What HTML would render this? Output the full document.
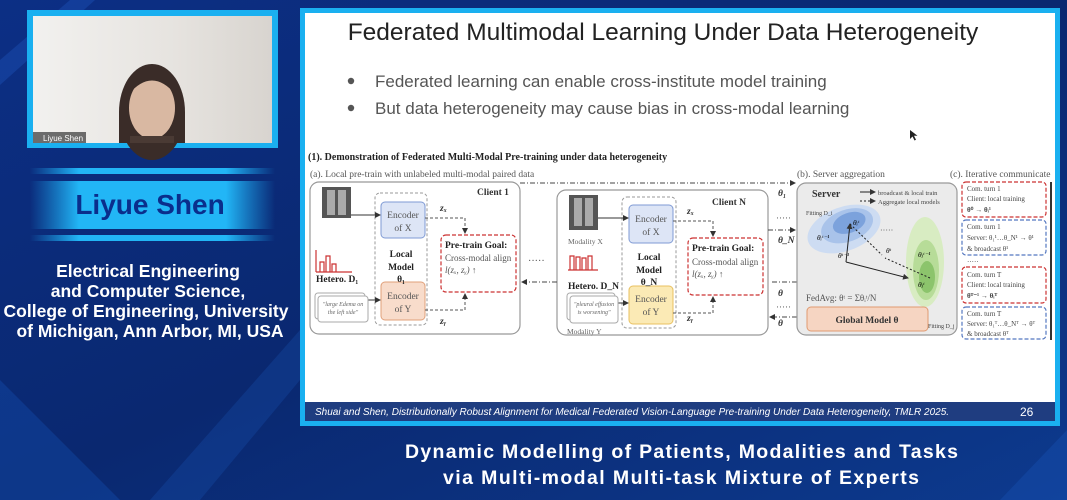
<!DOCTYPE html>
<html><head><meta charset="utf-8"><style>
html,body{margin:0;padding:0;width:1067px;height:500px;overflow:hidden;background:#0b2a72}
svg{display:block}
text{font-family:"Liberation Serif",serif}
.s{font-family:"Liberation Sans",sans-serif}
</style></head><body>
<svg width="1067" height="500" viewBox="0 0 1067 500" xmlns="http://www.w3.org/2000/svg">
<defs>
<linearGradient id="bg" x1="0" y1="0" x2="1" y2="1">
<stop offset="0" stop-color="#0c2f85"/><stop offset="0.5" stop-color="#0a2870"/><stop offset="1" stop-color="#0d3a8e"/>
</linearGradient>
<linearGradient id="band" x1="0" y1="0" x2="1" y2="0">
<stop offset="0" stop-color="#1aa8f0" stop-opacity="0"/><stop offset="0.2" stop-color="#22b6f6"/><stop offset="0.8" stop-color="#22b6f6"/><stop offset="1" stop-color="#1aa8f0" stop-opacity="0"/>
</linearGradient>
<linearGradient id="vid" x1="0" y1="0" x2="1" y2="0">
<stop offset="0" stop-color="#f2f1ef"/><stop offset="0.6" stop-color="#e6e3df"/><stop offset="1" stop-color="#d8d4cf"/>
</linearGradient>
<marker id="ah" markerWidth="6" markerHeight="6" refX="5" refY="3" orient="auto"><path d="M0,0L6,3L0,6z" fill="#333"/></marker>
</defs>
<rect width="1067" height="500" fill="url(#bg)"/>
<polygon points="0,60 70,0 95,0 0,85" fill="#1a4bb0" opacity="0.5"/>
<polygon points="0,500 0,380 120,500" fill="#1552b8" opacity="0.35"/>
<polygon points="150,500 300,330 300,380 200,500" fill="#1a5ac0" opacity="0.25"/>
<polygon points="1000,500 1067,430 1067,500" fill="#1a5ac0" opacity="0.3"/>

<!-- video -->
<rect x="27" y="10" width="251" height="138" fill="#1ab0f0"/>
<rect x="33" y="16" width="239" height="127" fill="url(#vid)"/>
<ellipse cx="152" cy="112" rx="33" ry="48" fill="#3a2c28"/>
<rect x="119" y="112" width="66" height="31" fill="#3a2c28"/>
<ellipse cx="152" cy="108" rx="23" ry="31" fill="#d9b8a2"/>
<path d="M128 95 Q152 66 176 95 L176 84 Q152 58 128 84Z" fill="#3a2c28"/>
<rect x="130" y="136" width="44" height="7" fill="#4a3a34"/>
<rect x="33" y="132" width="53" height="11" fill="#555" opacity="0.85"/>
<text x="43" y="141" class="s" font-size="8" fill="#fff">Liyue Shen</text>

<!-- name banner -->
<rect x="30" y="168" width="245" height="6" fill="url(#band)"/>
<rect x="30" y="181" width="245" height="48" fill="url(#band)"/>
<rect x="30" y="235" width="245" height="6" fill="url(#band)"/>
<text x="150" y="214" class="s" font-size="28" font-weight="bold" fill="#0a2e8c" text-anchor="middle">Liyue Shen</text>
<g class="s" font-size="17.5" font-weight="bold" fill="#fff" text-anchor="middle">
<text x="148" y="277" class="s">Electrical Engineering</text>
<text x="148" y="297" class="s">and Computer Science,</text>
<text x="146" y="317" class="s">College of Engineering, University</text>
<text x="150" y="337" class="s">of Michigan, Ann Arbor, MI, USA</text>
</g>

<!-- slide -->
<rect x="300" y="8" width="760" height="418" fill="#1ab0f0"/>
<rect x="305" y="13" width="750" height="408" fill="#fff"/>
<rect x="305" y="402" width="750" height="19" fill="#1f3d80"/>
<text x="315" y="415" class="s" font-size="10" font-style="italic" fill="#fff">Shuai and Shen, Distributionally Robust Alignment for Medical Federated Vision-Language Pre-training Under Data Heterogeneity, TMLR 2025.</text>
<text x="1020" y="416" class="s" font-size="12" fill="#fff">26</text>
<text x="663" y="40" class="s" font-size="24.5" fill="#222" text-anchor="middle">Federated Multimodal Learning Under Data Heterogeneity</text>
<circle cx="351" cy="81" r="3.2" fill="#555"/><circle cx="351" cy="108" r="3.2" fill="#555"/>
<text x="375" y="87" class="s" font-size="17" fill="#555">Federated learning can enable cross-institute model training</text>
<text x="375" y="114" class="s" font-size="17" fill="#555">But data heterogeneity may cause bias in cross-modal learning</text>
<path d="M910 130 l0 9 l2.5 -2.5 l2 4 l1.5 -.7 l-2 -4 l3.5 0z" fill="#222"/>

<!-- diagram -->
<text x="308" y="160" font-size="10" font-weight="bold" fill="#222">(1). Demonstration of Federated Multi-Modal Pre-training under data heterogeneity</text>
<text x="310" y="177" font-size="9.5" fill="#555">(a). Local pre-train with unlabeled multi-modal paired data</text>
<text x="797" y="177" font-size="9.5" fill="#555">(b). Server aggregation</text>
<text x="950" y="177" font-size="9.5" fill="#555">(c). Iterative communicate</text>

<!-- Client 1 -->
<rect x="310" y="182" width="210" height="152" rx="9" fill="#fff" stroke="#999" stroke-width="1.2"/>
<text x="477" y="195" font-size="9.5" font-weight="bold" fill="#333">Client 1</text>
<rect x="322" y="187" width="29" height="31" fill="#555"/><rect x="327" y="190" width="8" height="25" fill="#aaa"/><rect x="338" y="190" width="8" height="25" fill="#aaa"/>
<rect x="375" y="193" width="52" height="132" rx="5" fill="none" stroke="#999" stroke-dasharray="3,2"/>
<rect x="381" y="202" width="44" height="36" rx="4" fill="#dde5f6" stroke="#7f9ad4"/>
<text x="403" y="218" font-size="9.5" fill="#555" text-anchor="middle">Encoder</text><text x="403" y="231" font-size="9.5" fill="#555" text-anchor="middle">of X</text>
<rect x="381" y="282" width="44" height="38" rx="4" fill="#f8dccb" stroke="#e0a07a"/>
<text x="403" y="299" font-size="9.5" fill="#555" text-anchor="middle">Encoder</text><text x="403" y="312" font-size="9.5" fill="#555" text-anchor="middle">of Y</text>
<text x="401" y="257" font-size="9.5" font-weight="bold" fill="#222" text-anchor="middle">Local</text>
<text x="401" y="270" font-size="9.5" font-weight="bold" fill="#222" text-anchor="middle">Model</text>
<text x="401" y="282" font-size="9.5" font-weight="bold" fill="#222" text-anchor="middle">θ₁</text>
<line x1="351" y1="215" x2="380" y2="215" stroke="#333" marker-end="url(#ah)"/>
<line x1="360" y1="300" x2="380" y2="300" stroke="#333" marker-end="url(#ah)"/>
<rect x="441" y="235" width="75" height="57" rx="5" fill="#fff" stroke="#c33" stroke-dasharray="4,2" stroke-width="1.2"/>
<text x="445" y="248" font-size="9.5" font-weight="bold" fill="#222">Pre-train Goal:</text>
<text x="445" y="261" font-size="9" fill="#555">Cross-modal align</text>
<text x="445" y="273" font-size="9" fill="#555" font-style="italic">l(zₓ, zᵧ) ↑</text>
<path d="M425 218 H465 V233" fill="none" stroke="#555" stroke-dasharray="3,2" marker-end="url(#ah)"/>
<path d="M425 310 H465 V294" fill="none" stroke="#555" stroke-dasharray="3,2" marker-end="url(#ah)"/>
<text x="440" y="211" font-size="9.5" font-weight="bold" font-style="italic" fill="#333">zₓ</text>
<text x="440" y="324" font-size="9.5" font-weight="bold" font-style="italic" fill="#333">zᵧ</text>
<g fill="none" stroke="#c33" stroke-width="1.2"><path d="M316 272 V250 M320 272 V262 h4 v10 M326 272 V256 h4 v16 M332 272 V264 h4 v8 M316 272 H352"/></g>
<text x="316" y="282" font-size="9.5" font-weight="bold" fill="#222">Hetero. D₁</text>
<rect x="315" y="293" width="50" height="26" rx="3" fill="#fff" stroke="#aaa"/>
<rect x="318" y="296" width="50" height="26" rx="3" fill="#fff" stroke="#aaa"/>
<text x="343" y="306" font-size="6" font-style="italic" fill="#666" text-anchor="middle">"large Edema on</text>
<text x="343" y="314" font-size="6" font-style="italic" fill="#666" text-anchor="middle">the left side"</text>
<text x="528" y="264" font-size="10" fill="#555">·····</text>

<!-- Client N -->
<rect x="557" y="190" width="211" height="145" rx="9" fill="#fff" stroke="#999" stroke-width="1.2"/>
<text x="712" y="205" font-size="9.5" font-weight="bold" fill="#333">Client N</text>
<rect x="569" y="195" width="29" height="35" fill="#555"/><rect x="574" y="198" width="8" height="28" fill="#aaa"/><rect x="585" y="198" width="8" height="28" fill="#aaa"/>
<text x="568" y="244" font-size="7.5" fill="#666">Modality X</text>
<rect x="622" y="197" width="54" height="131" rx="5" fill="none" stroke="#999" stroke-dasharray="3,2"/>
<rect x="629" y="205" width="44" height="38" rx="4" fill="#dde5f6" stroke="#7f9ad4"/>
<text x="651" y="222" font-size="9.5" fill="#555" text-anchor="middle">Encoder</text><text x="651" y="235" font-size="9.5" fill="#555" text-anchor="middle">of X</text>
<rect x="629" y="286" width="44" height="38" rx="4" fill="#fbeab5" stroke="#e8c060"/>
<text x="651" y="302" font-size="9.5" fill="#555" text-anchor="middle">Encoder</text><text x="651" y="315" font-size="9.5" fill="#555" text-anchor="middle">of Y</text>
<text x="649" y="260" font-size="9.5" font-weight="bold" fill="#222" text-anchor="middle">Local</text>
<text x="649" y="273" font-size="9.5" font-weight="bold" fill="#222" text-anchor="middle">Model</text>
<text x="649" y="285" font-size="9.5" font-weight="bold" fill="#222" text-anchor="middle">θ_N</text>
<line x1="598" y1="218" x2="628" y2="218" stroke="#333" marker-end="url(#ah)"/>
<line x1="610" y1="303" x2="628" y2="303" stroke="#333" marker-end="url(#ah)"/>
<rect x="688" y="238" width="75" height="57" rx="5" fill="#fff" stroke="#c33" stroke-dasharray="4,2" stroke-width="1.2"/>
<text x="692" y="251" font-size="9.5" font-weight="bold" fill="#222">Pre-train Goal:</text>
<text x="692" y="265" font-size="9" fill="#555">Cross-modal align</text>
<text x="692" y="277" font-size="9" fill="#555" font-style="italic">l(zₓ, zᵧ) ↑</text>
<path d="M673 221 H713 V236" fill="none" stroke="#555" stroke-dasharray="3,2" marker-end="url(#ah)"/>
<path d="M673 313 H713 V297" fill="none" stroke="#555" stroke-dasharray="3,2" marker-end="url(#ah)"/>
<text x="687" y="214" font-size="9.5" font-weight="bold" font-style="italic" fill="#333">zₓ</text>
<text x="687" y="321" font-size="9.5" font-weight="bold" font-style="italic" fill="#333">zᵧ</text>
<g fill="none" stroke="#c33" stroke-width="1.2"><path d="M570 270 V256 h4 v14 M576 270 V257 h4 v13 M582 270 V258 h4 v12 M588 270 V256 h4 v14 M568 270 H598"/></g>
<text x="568" y="289" font-size="9.5" font-weight="bold" fill="#222">Hetero. D_N</text>
<rect x="567" y="293" width="48" height="27" rx="3" fill="#fff" stroke="#aaa"/>
<rect x="570" y="296" width="48" height="27" rx="3" fill="#fff" stroke="#aaa"/>
<text x="594" y="306" font-size="6" font-style="italic" fill="#666" text-anchor="middle">"pleural effusion</text>
<text x="594" y="314" font-size="6" font-style="italic" fill="#666" text-anchor="middle">is worsening"</text>
<text x="567" y="334" font-size="7.5" fill="#666">Modality Y</text>

<!-- connectors -->
<g stroke="#444" stroke-dasharray="5,2,1,2" fill="none">
<line x1="520" y1="183" x2="795" y2="183" marker-end="url(#ah)"/>
<line x1="768" y1="230" x2="795" y2="230" marker-end="url(#ah)"/>
<line x1="797" y1="282" x2="770" y2="282"/>
<line x1="557" y1="282" x2="522" y2="282" marker-end="url(#ah)"/>
<line x1="797" y1="317" x2="770" y2="317" marker-end="url(#ah)"/>
</g>
<text x="778" y="196" font-size="9.5" font-weight="bold" font-style="italic" fill="#333">θ₁</text>
<text x="776" y="221" font-size="9" fill="#555">·····</text>
<text x="778" y="243" font-size="9.5" font-weight="bold" font-style="italic" fill="#333">θ_N</text>
<text x="778" y="296" font-size="9.5" font-weight="bold" font-style="italic" fill="#333">θ</text>
<text x="776" y="310" font-size="9" fill="#555">·····</text>
<text x="778" y="326" font-size="9.5" font-weight="bold" font-style="italic" fill="#333">θ</text>

<!-- Server -->
<rect x="797" y="183" width="160" height="152" rx="9" fill="#ebebeb" stroke="#999" stroke-width="1.2"/>
<text x="812" y="197" font-size="10" font-weight="bold" fill="#333">Server</text>
<line x1="860" y1="192" x2="875" y2="192" stroke="#222" marker-end="url(#ah)"/>
<text x="878" y="195" font-size="6.5" fill="#444">broadcast &amp; local train</text>
<line x1="860" y1="201" x2="875" y2="201" stroke="#222" stroke-dasharray="2,2" marker-end="url(#ah)"/>
<text x="878" y="204" font-size="6.5" fill="#444">Aggregate local models</text>
<g transform="rotate(-20 844 229)">
<ellipse cx="844" cy="229" rx="38" ry="22" fill="#cddcf2"/>
<ellipse cx="848" cy="227" rx="27" ry="16" fill="#a9c3ea"/>
<ellipse cx="851" cy="225" rx="17" ry="10" fill="#7ca2dc"/>
</g>
<ellipse cx="925" cy="262" rx="19" ry="45" fill="#d8ecc2"/>
<ellipse cx="926" cy="270" rx="13" ry="30" fill="#b7dc98"/>
<ellipse cx="927" cy="277" rx="8" ry="16" fill="#8cc46c"/>
<text x="806" y="215" font-size="6" fill="#444">Fitting D_i</text>
<text x="928" y="328" font-size="6" fill="#444">Fitting D_j</text>
<line x1="846" y1="262" x2="850" y2="224" stroke="#222" marker-end="url(#ah)"/>
<line x1="846" y1="262" x2="908" y2="278" stroke="#222" marker-end="url(#ah)"/>
<path d="M850 224 L882 255 M930 278 L885 258" stroke="#222" stroke-dasharray="2,2" fill="none"/>
<text x="853" y="225" font-size="7.5" font-style="italic">θᵢᵗ</text>
<text x="817" y="240" font-size="7.5" font-style="italic">θᵢᵗ⁻¹</text>
<text x="838" y="258" font-size="7.5" font-style="italic">θᵗ⁻¹</text>
<text x="886" y="253" font-size="7.5" font-style="italic">θᵗ</text>
<text x="918" y="257" font-size="7.5" font-style="italic">θⱼᵗ⁻¹</text>
<text x="918" y="287" font-size="7.5" font-style="italic">θⱼᵗ</text>
<text x="880" y="233" font-size="8" fill="#555">·····</text>
<text x="806" y="301" font-size="9" fill="#555">FedAvg: θᵗ = Σθᵢᵗ/N</text>
<rect x="807" y="307" width="121" height="24" rx="4" fill="#f6d5c2" stroke="#e09a70"/>
<text x="867" y="323" font-size="9.5" font-weight="bold" fill="#333" text-anchor="middle">Global Model θ</text>

<!-- right column -->
<g fill="#fff" stroke-dasharray="4,2" stroke-width="1.2">
<rect x="962" y="182" width="84" height="35" rx="4" stroke="#c33"/>
<rect x="962" y="220" width="84" height="35" rx="4" stroke="#5578c0"/>
<rect x="962" y="267" width="84" height="36" rx="4" stroke="#c33"/>
<rect x="962" y="307" width="84" height="32" rx="4" stroke="#5578c0"/>
</g>
<g font-size="7" fill="#444">
<text x="967" y="191">Com. turn 1</text><text x="967" y="201">Client: local training</text><text x="967" y="212" font-weight="bold">θ⁰ → θᵢ¹</text>
<text x="967" y="229">Com. turn 1</text><text x="967" y="240">Server: θ₁¹…θ_N¹ → θ¹</text><text x="967" y="251">&amp; broadcast θ¹</text>
<text x="967" y="264">·····</text>
<text x="967" y="277">Com. turn T</text><text x="967" y="287">Client: local training</text><text x="967" y="298" font-weight="bold">θᵀ⁻¹ → θᵢᵀ</text>
<text x="967" y="316">Com. turn T</text><text x="967" y="326">Server: θ₁ᵀ…θ_Nᵀ → θᵀ</text><text x="967" y="336">&amp; broadcast θᵀ</text>
</g>
<line x1="1051" y1="182" x2="1051" y2="340" stroke="#333" stroke-width="2"/>

<!-- bottom caption -->
<text x="405" y="458" class="s" font-size="19.5" font-weight="bold" fill="#fff" textLength="553" lengthAdjust="spacing">Dynamic Modelling of Patients, Modalities and Tasks</text>
<text x="443" y="484" class="s" font-size="19.5" font-weight="bold" fill="#fff" textLength="476" lengthAdjust="spacing">via Multi-modal Multi-task Mixture of Experts</text>
</svg>
</body></html>
